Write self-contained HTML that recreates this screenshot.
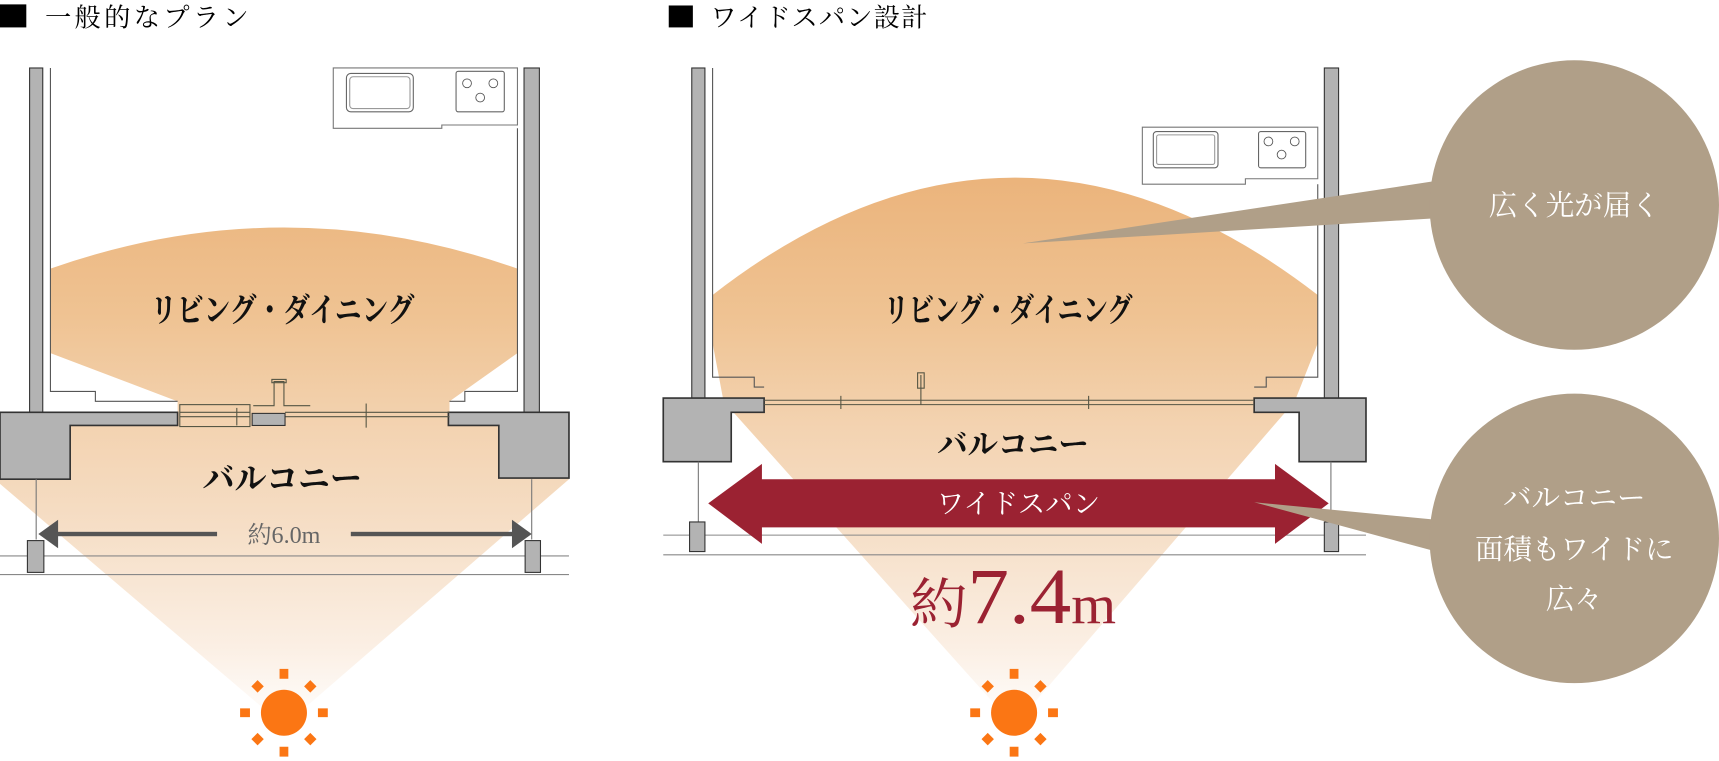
<!DOCTYPE html>
<html><head><meta charset="utf-8">
<style>
html,body{margin:0;padding:0;background:#fff;}
svg{display:block;}
text{font-family:"Liberation Serif","Noto Serif CJK SC","Noto Serif CJK JP",serif;}
</style></head>
<body>
<svg width="1719" height="761" viewBox="0 0 1568 694" preserveAspectRatio="none" xmlns="http://www.w3.org/2000/svg">
<defs>
<linearGradient id="g" gradientUnits="userSpaceOnUse" x1="0" y1="165" x2="0" y2="665">
<stop offset="0" stop-color="#ebb47c"/>
<stop offset="0.25" stop-color="#efc393"/>
<stop offset="0.45" stop-color="#f3d3b1"/>
<stop offset="0.6" stop-color="#f5dcc2"/>
<stop offset="0.85" stop-color="#fbefe4"/>
<stop offset="1" stop-color="#ffffff"/>
</linearGradient>
<g id="sun" fill="#fb7614">
<ellipse cx="0" cy="0" rx="21" ry="21"/>
<rect x="-4" y="-40" width="8" height="9"/>
<rect x="-4" y="31" width="8" height="9"/>
<rect x="-40" y="-4" width="9" height="8"/>
<rect x="31" y="-4" width="9" height="8"/>
<rect x="-4" y="-4" width="8" height="8" transform="rotate(45) translate(0,-34)"/>
<rect x="-4" y="-4" width="8" height="8" transform="rotate(135) translate(0,-34)"/>
<rect x="-4" y="-4" width="8" height="8" transform="rotate(225) translate(0,-34)"/>
<rect x="-4" y="-4" width="8" height="8" transform="rotate(315) translate(0,-34)"/>
</g>
</defs>

<!-- ===== LEFT ===== -->
<rect x="0" y="4" width="24" height="21" fill="#000"/>
<text x="41" y="24" font-size="24" letter-spacing="3" fill="#000">一般的なプラン</text>

<path d="M259,662 L-5,437 L0,378 L162,378 L162,366 L46,322 L46,245 Q259,170 472,245 L472,322 L410,366 L410,378 L519,378 L519,437 Z" fill="url(#g)"/>

<rect x="27" y="62" width="12" height="316" fill="#b3b3b3" stroke="#333" stroke-width="1"/>
<rect x="478" y="62" width="14" height="316" fill="#b3b3b3" stroke="#333" stroke-width="1"/>
<polyline points="46,62 46,357 87,357 87,366 162,366" fill="none" stroke="#555" stroke-width="1"/>
<polyline points="472,117 472,357 424,357 424,366 410,366" fill="none" stroke="#555" stroke-width="1"/>
<path d="M0,376 L162,376 L162,388 L64,388 L64,437 L0,437 Z" fill="#b3b3b3" stroke="#333" stroke-width="1.5"/>
<path d="M409,376 L519,376 L519,436 L455,436 L455,388 L409,388 Z" fill="#b3b3b3" stroke="#333" stroke-width="1.5"/>
<path d="M304,62 L472,62 L472,114 L403,114 L403,117 L304,117 Z" fill="#fff" stroke="#777" stroke-width="1"/>
<rect x="316" y="67" width="61" height="35" rx="4" fill="#fff" stroke="#666"/>
<rect x="319" y="70" width="55" height="29" rx="3" fill="none" stroke="#999"/>
<rect x="416" y="65" width="44" height="37" rx="2" fill="#fff" stroke="#666"/>
<g stroke="#555" fill="none" stroke-width="0.8">
<circle cx="426" cy="76" r="4"/><circle cx="450" cy="76" r="4"/><circle cx="438" cy="89" r="4"/>
</g>
<g stroke="#554" fill="none" stroke-width="1">
<rect x="164" y="369" width="64" height="20"/>
<line x1="164" y1="376" x2="228" y2="376"/><line x1="164" y1="380" x2="228" y2="380"/>
<line x1="216" y1="372" x2="216" y2="388"/>
<polyline points="231,370 250,370 250,348 259,348 259,370 283,370"/>
<rect x="248" y="346" width="13" height="3"/>
<line x1="260" y1="376" x2="410" y2="376"/><line x1="260" y1="380" x2="410" y2="380"/>
<line x1="334" y1="368" x2="334" y2="390"/>
</g>
<rect x="230" y="377" width="30" height="11" fill="#b3b3b3" stroke="#333"/>
<line x1="33" y1="437" x2="33" y2="492" stroke="#777"/>
<line x1="485" y1="437" x2="485" y2="492" stroke="#777"/>
<line x1="0" y1="507" x2="519" y2="507" stroke="#888"/>
<line x1="0" y1="524" x2="519" y2="524" stroke="#888"/>
<rect x="25" y="493" width="15" height="29" fill="#b3b3b3" stroke="#333"/>
<rect x="479" y="493" width="14" height="29" fill="#b3b3b3" stroke="#333"/>
<g fill="#555">
<rect x="50" y="485" width="148" height="4"/>
<path d="M35,487 L53,474 L53,500 Z"/>
<rect x="320" y="485" width="148" height="4"/>
<path d="M485,487 L467,474 L467,500 Z"/>
</g>
<text x="259" y="495" font-size="22" text-anchor="middle" fill="#666">約6.0m</text>
<text x="137" y="293" font-size="30" textLength="241" lengthAdjust="spacingAndGlyphs" fill="#111" font-weight="bold">リビング・ダイニング</text>
<text x="185" y="447" font-size="30" textLength="145" lengthAdjust="spacingAndGlyphs" fill="#111" font-weight="bold">バルコニー</text>
<use href="#sun" x="259" y="650"/>

<!-- ===== RIGHT ===== -->
<rect x="610" y="5" width="22" height="20" fill="#000"/>
<text x="648" y="24" font-size="24" letter-spacing="1" fill="#000">ワイドスパン設計</text>

<path d="M925,662 L660,366 L650,313 L650,269 Q925,55 1202,269 L1202,313 L1181,366 Z" fill="url(#g)"/>

<rect x="631" y="62" width="12" height="302" fill="#b3b3b3" stroke="#333"/>
<rect x="1208" y="62" width="13" height="302" fill="#b3b3b3" stroke="#333"/>
<polyline points="650,62 650,344 688,344 688,353 697,353" fill="none" stroke="#555"/>
<polyline points="1202,168 1202,344 1155,344 1155,353 1144,353" fill="none" stroke="#555"/>
<path d="M605,363 L697,363 L697,376 L667,376 L667,421 L605,421 Z" fill="#b3b3b3" stroke="#333" stroke-width="1.5"/>
<path d="M1144,363 L1246,363 L1246,421 L1185,421 L1185,376 L1144,376 Z" fill="#b3b3b3" stroke="#333" stroke-width="1.5"/>
<path d="M1042,116 L1202,116 L1202,163 L1136,163 L1136,168 L1042,168 Z" fill="#fff" stroke="#777"/>
<rect x="1052" y="120" width="59" height="33" rx="3" fill="#fff" stroke="#666"/>
<rect x="1055" y="123" width="53" height="27" rx="2" fill="none" stroke="#999"/>
<rect x="1148" y="120" width="43" height="33" rx="2" fill="#fff" stroke="#666"/>
<g stroke="#555" fill="none" stroke-width="0.8">
<circle cx="1157" cy="129" r="4"/><circle cx="1181" cy="129" r="4"/><circle cx="1169" cy="141" r="4"/>
</g>
<g stroke="#554" fill="none" stroke-width="1">
<line x1="697" y1="365" x2="1144" y2="365"/><line x1="697" y1="369" x2="1144" y2="369"/>
<line x1="767" y1="361" x2="767" y2="373"/><line x1="993" y1="361" x2="993" y2="373"/>
<line x1="840" y1="342" x2="840" y2="369"/><rect x="837" y="340" width="6" height="14"/>
</g>
<line x1="637" y1="421" x2="637" y2="476" stroke="#777"/>
<line x1="1214" y1="421" x2="1214" y2="476" stroke="#777"/>
<line x1="605" y1="488" x2="1246" y2="488" stroke="#888"/>
<line x1="605" y1="506" x2="1246" y2="506" stroke="#888"/>
<rect x="629" y="476" width="14" height="27" fill="#b3b3b3" stroke="#333"/>
<rect x="1208" y="476" width="13" height="27" fill="#b3b3b3" stroke="#333"/>

<text x="806" y="293" font-size="30" textLength="227" lengthAdjust="spacingAndGlyphs" fill="#111" font-weight="bold">リビング・ダイニング</text>
<text x="855" y="415" font-size="28" textLength="138" lengthAdjust="spacingAndGlyphs" fill="#111" font-weight="bold">バルコニー</text>

<path d="M646,459 L695,423 L695,437 L1163,437 L1163,423 L1212,459 L1163,496 L1163,481 L695,481 L695,496 Z" fill="#9b2232"/>
<text x="929" y="468" font-size="25" text-anchor="middle" fill="#fff">ワイドスパン</text>
<text x="830" y="568" textLength="188" lengthAdjust="spacingAndGlyphs" fill="#9b2232"><tspan font-size="50">約</tspan><tspan font-size="72">7.4</tspan><tspan font-size="50">m</tspan></text>
<use href="#sun" x="925" y="650"/>

<path d="M933,222 L1310,165 L1310,199 Z" fill="#b09f88"/>
<circle cx="1436" cy="187" r="132" fill="#b09f88"/>
<path d="M1144,458 L1310,474 L1310,503 Z" fill="#b09f88"/>
<circle cx="1436" cy="491" r="132" fill="#b09f88"/>
<text x="1436" y="196" font-size="26" text-anchor="middle" fill="#fff">広く光が届く</text>
<text x="1436" y="463" font-size="26" text-anchor="middle" fill="#fff">バルコニー</text>
<text x="1436" y="510" font-size="26" text-anchor="middle" fill="#fff">面積もワイドに</text>
<text x="1436" y="555" font-size="26" text-anchor="middle" fill="#fff">広々</text>
</svg>
</body></html>
